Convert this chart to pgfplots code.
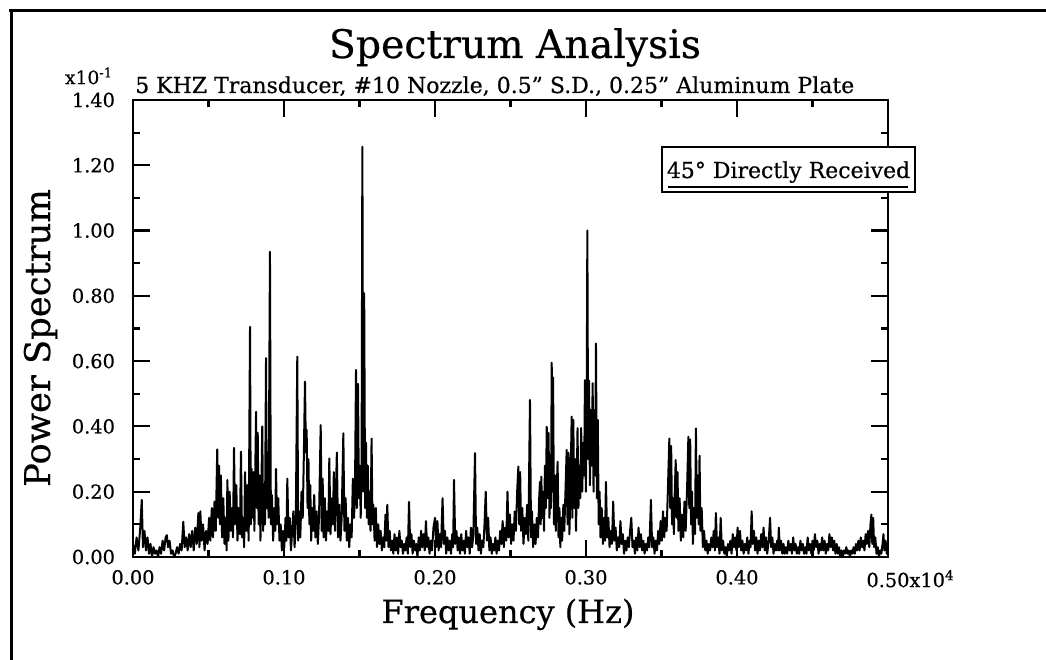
\documentclass[border=0pt]{standalone}
\usepackage{fontspec}
\setmainfont{DejaVu Serif}[FakeBold=0.5]
\usepackage{pgfplots}
\pgfplotsset{compat=1.18}
\begin{document}
\begin{tikzpicture}
\path[use as bounding box] (0,0) rectangle (784.5pt,495pt);
\begin{axis}[
  at={(99.75pt,77.25pt)}, anchor=south west, scale only axis,
  width=566.25pt, height=342.75pt,
  xmin=0, xmax=0.5, ymin=0, ymax=1.4,
  xtick={0,0.1,0.2,0.3,0.4,0.5},
  xticklabels={0.00,0.10,0.20,0.30,0.40,{0.50\rlap{x10\textsuperscript{4}}}},
  minor xtick={0.05,0.15,0.25,0.35,0.45},
  ytick={0,0.2,0.4,0.6,0.8,1.0,1.2,1.4},
  yticklabels={0.00,0.20,0.40,0.60,0.80,1.00,1.20,1.40},
  minor ytick={0.1,0.3,0.5,0.7,0.9,1.1,1.3},
  tick align=inside, major tick length=12.75pt, minor tick length=5.25pt,
  axis line style={line width=1.6pt},
  every tick/.style={black, line width=1.6pt},
  ticklabel style={font=\fontsize{14.5}{16}\selectfont},
  yticklabel style={xshift=-10pt},
  xticklabel style={yshift=-6.25pt},
]
\addplot[black, line width=1.5pt, line join=round, no markers] table {
x y
0.000 0.04
0.0012 0.01
0.0024 0.06
0.0036 0.02
0.0048 0.09
0.0058 0.175
0.0066 0.03
0.0076 0.08
0.0086 0.02
0.0096 0.06
0.0106 0.01
0.0116 0.04
0.0126 0.00
0.0136 0.03
0.0146 0.01
0.0156 0.02
0.0166 0.00
0.0176 0.03
0.0186 0.01
0.0196 0.05
0.0206 0.02
0.0216 0.06
0.0224 0.067
0.0232 0.03
0.0242 0.05
0.0252 0.01
0.0262 0.02
0.0272 0.00
0.0282 0.01
0.0292 0.03
0.0302 0.01
0.0312 0.04
0.0322 0.02
0.0333 0.108
0.0342 0.03
0.0352 0.06
0.0362 0.02
0.0372 0.07
0.0382 0.03
0.0392 0.08
0.0402 0.02
0.0412 0.09
0.0422 0.04
0.0433 0.135
0.0440 0.03
0.0446 0.14
0.0454 0.05
0.0464 0.10
0.0474 0.02
0.0484 0.08
0.0494 0.04
0.0504 0.12
0.0512 0.05
0.0522 0.15
0.0530 0.06
0.0540 0.17
0.0548 0.08
0.0558 0.33
0.0564 0.12
0.0570 0.28
0.0576 0.10
0.0582 0.25
0.0590 0.06
0.0598 0.18
0.0606 0.04
0.0614 0.12
0.0620 0.02
0.0625 0.236
0.0632 0.05
0.0640 0.20
0.0648 0.08
0.0656 0.15
0.0662 0.06
0.0669 0.334
0.0676 0.10
0.0684 0.22
0.0692 0.05
0.0700 0.15
0.0708 0.07
0.0715 0.323
0.0722 0.06
0.0730 0.12
0.0736 0.03
0.0742 0.26
0.0750 0.08
0.0758 0.22
0.0766 0.05
0.0775 0.705
0.0780 0.10
0.0786 0.27
0.0792 0.12
0.0798 0.26
0.0804 0.08
0.0810 0.27
0.0815 0.445
0.0820 0.15
0.0826 0.38
0.0832 0.10
0.0838 0.25
0.0844 0.05
0.0850 0.20
0.0856 0.40
0.0862 0.08
0.0868 0.22
0.0874 0.10
0.0881 0.609
0.0886 0.15
0.0892 0.30
0.0898 0.12
0.0907 0.935
0.0913 0.10
0.0920 0.19
0.0928 0.05
0.0936 0.15
0.0942 0.08
0.0947 0.27
0.0954 0.10
0.0962 0.18
0.0970 0.05
0.0978 0.10
0.0986 0.02
0.0994 0.08
0.1002 0.03
0.1010 0.12
0.1016 0.05
0.1022 0.24
0.1030 0.06
0.1038 0.12
0.1046 0.02
0.1054 0.08
0.1062 0.14
0.1070 0.03
0.1078 0.10
0.1088 0.614
0.1094 0.05
0.1100 0.14
0.1108 0.06
0.1116 0.20
0.1124 0.12
0.1131 0.30
0.1139 0.537
0.1145 0.32
0.1150 0.39
0.1156 0.15
0.1162 0.30
0.1168 0.10
0.1174 0.22
0.1180 0.05
0.1186 0.15
0.1192 0.08
0.1200 0.19
0.1208 0.06
0.1216 0.14
0.1224 0.04
0.1232 0.12
0.1243 0.404
0.1250 0.08
0.1256 0.24
0.1262 0.06
0.1270 0.18
0.1278 0.05
0.1286 0.14
0.1294 0.08
0.1300 0.302
0.1308 0.07
0.1316 0.18
0.1324 0.10
0.1330 0.26
0.1338 0.08
0.1350 0.32
0.1358 0.06
0.1366 0.16
0.1374 0.05
0.1382 0.12
0.1393 0.379
0.1400 0.08
0.1408 0.18
0.1416 0.05
0.1424 0.12
0.1432 0.03
0.1440 0.10
0.1448 0.06
0.1456 0.24
0.1464 0.12
0.1470 0.20
0.1477 0.573
0.1482 0.15
0.1490 0.53
0.1496 0.18
0.1502 0.28
0.1508 0.12
0.1514 0.30
0.1519 1.257
0.1525 0.20
0.1531 0.808
0.1537 0.15
0.1543 0.35
0.1549 0.12
0.1555 0.28
0.1561 0.10
0.1567 0.20
0.1573 0.08
0.1580 0.363
0.1586 0.10
0.1592 0.16
0.1600 0.05
0.1608 0.15
0.1616 0.03
0.1624 0.10
0.1632 0.04
0.1640 0.08
0.1648 0.02
0.1656 0.06
0.1664 0.03
0.1672 0.13
0.1678 0.05
0.1684 0.16
0.1692 0.03
0.1700 0.08
0.1708 0.02
0.1716 0.05
0.1724 0.01
0.1732 0.07
0.1740 0.02
0.1748 0.06
0.1756 0.01
0.1764 0.08
0.1772 0.03
0.1780 0.05
0.1788 0.01
0.1796 0.04
0.1804 0.02
0.1812 0.06
0.1820 0.01
0.1828 0.169
0.1836 0.03
0.1844 0.07
0.1852 0.01
0.1860 0.05
0.1868 0.02
0.1876 0.04
0.1884 0.00
0.1892 0.06
0.1900 0.02
0.1908 0.08
0.1916 0.03
0.1924 0.07
0.1932 0.02
0.1940 0.11
0.1948 0.03
0.1956 0.06
0.1964 0.01
0.1972 0.05
0.1980 0.02
0.1990 0.09
0.2000 0.12
0.2008 0.03
0.2016 0.11
0.2024 0.02
0.2032 0.07
0.2040 0.03
0.2050 0.18
0.2058 0.04
0.2066 0.08
0.2074 0.01
0.2082 0.06
0.2090 0.02
0.2098 0.05
0.2106 0.01
0.2114 0.07
0.2120 0.03
0.2126 0.236
0.2134 0.04
0.2142 0.08
0.2150 0.02
0.2158 0.06
0.2166 0.01
0.2174 0.07
0.2182 0.02
0.2190 0.05
0.2198 0.01
0.2206 0.08
0.2214 0.03
0.2222 0.06
0.2230 0.01
0.2238 0.09
0.2246 0.03
0.2254 0.07
0.2265 0.318
0.2272 0.04
0.2280 0.09
0.2288 0.02
0.2296 0.07
0.2304 0.01
0.2312 0.05
0.2320 0.03
0.2328 0.10
0.2336 0.20
0.2344 0.05
0.2352 0.12
0.2360 0.02
0.2368 0.06
0.2376 0.01
0.2384 0.04
0.2392 0.02
0.2400 0.06
0.2408 0.01
0.2416 0.05
0.2424 0.02
0.2432 0.08
0.2440 0.04
0.2448 0.11
0.2456 0.03
0.2464 0.09
0.2472 0.05
0.2480 0.20
0.2488 0.06
0.2496 0.13
0.2504 0.04
0.2512 0.10
0.2520 0.05
0.2528 0.14
0.2536 0.08
0.2544 0.20
0.2552 0.277
0.2558 0.10
0.2564 0.26
0.2570 0.08
0.2578 0.15
0.2586 0.04
0.2594 0.12
0.2602 0.07
0.2610 0.16
0.2618 0.05
0.2629 0.481
0.2636 0.06
0.2642 0.14
0.2650 0.03
0.2658 0.10
0.2666 0.04
0.2674 0.12
0.2682 0.06
0.2690 0.18
0.2695 0.23
0.2700 0.10
0.2704 0.246
0.2710 0.12
0.2716 0.20
0.2722 0.08
0.2728 0.28
0.2734 0.15
0.2740 0.399
0.2746 0.18
0.2752 0.38
0.2758 0.12
0.2764 0.30
0.2768 0.15
0.2773 0.595
0.2778 0.20
0.2782 0.55
0.2788 0.10
0.2794 0.25
0.2800 0.08
0.2806 0.20
0.2812 0.292
0.2818 0.06
0.2824 0.15
0.2830 0.03
0.2836 0.12
0.2842 0.05
0.2850 0.16
0.2856 0.08
0.2864 0.20
0.2872 0.328
0.2878 0.10
0.2884 0.32
0.2890 0.07
0.2897 0.20
0.2905 0.43
0.2910 0.12
0.2916 0.42
0.2922 0.15
0.2928 0.30
0.2934 0.08
0.2944 0.395
0.2950 0.15
0.2956 0.28
0.2962 0.18
0.2968 0.395
0.2975 0.20
0.2982 0.35
0.2988 0.25
0.2993 0.542
0.2999 0.20
0.3004 0.40
0.3009 1.0
0.3014 0.30
0.3020 0.54
0.3026 0.22
0.3032 0.45
0.3038 0.28
0.3044 0.532
0.3050 0.20
0.3056 0.45
0.3061 0.25
0.3066 0.654
0.3072 0.18
0.3078 0.42
0.3084 0.10
0.3090 0.20
0.3096 0.06
0.3104 0.15
0.3112 0.04
0.3120 0.12
0.3126 0.05
0.3132 0.23
0.3140 0.06
0.3148 0.12
0.3156 0.03
0.3164 0.08
0.3172 0.04
0.3180 0.17
0.3188 0.05
0.3196 0.09
0.3204 0.02
0.3212 0.06
0.3220 0.03
0.3228 0.11
0.3236 0.04
0.3244 0.07
0.3252 0.01
0.3260 0.05
0.3268 0.02
0.3276 0.06
0.3284 0.03
0.3292 0.08
0.3300 0.12
0.3308 0.03
0.3316 0.05
0.3324 0.01
0.3332 0.06
0.3340 0.02
0.3348 0.09
0.3356 0.03
0.3364 0.07
0.3372 0.02
0.3380 0.05
0.3388 0.01
0.3396 0.04
0.3404 0.02
0.3412 0.06
0.3420 0.03
0.3430 0.175
0.3438 0.03
0.3446 0.06
0.3454 0.01
0.3462 0.05
0.3470 0.02
0.3478 0.08
0.3486 0.04
0.3494 0.11
0.3502 0.05
0.3510 0.14
0.3518 0.06
0.3526 0.12
0.3534 0.08
0.3542 0.20
0.3552 0.363
0.3558 0.15
0.3564 0.34
0.3570 0.10
0.3576 0.18
0.3582 0.07
0.3588 0.20
0.3594 0.297
0.3600 0.12
0.3606 0.26
0.3612 0.08
0.3620 0.18
0.3628 0.05
0.3636 0.13
0.3644 0.06
0.3652 0.17
0.3660 0.08
0.3670 0.22
0.3678 0.368
0.3684 0.15
0.3690 0.36
0.3696 0.10
0.3702 0.20
0.3708 0.04
0.3716 0.15
0.3722 0.07
0.3728 0.394
0.3734 0.12
0.3740 0.25
0.3746 0.10
0.3752 0.31
0.3758 0.08
0.3766 0.15
0.3774 0.03
0.3782 0.08
0.3790 0.02
0.3798 0.05
0.3806 0.01
0.3814 0.04
0.3822 0.02
0.3830 0.06
0.3838 0.03
0.3846 0.08
0.3854 0.02
0.3860 0.135
0.3868 0.03
0.3876 0.06
0.3884 0.01
0.3892 0.12
0.3900 0.02
0.3908 0.05
0.3916 0.01
0.3924 0.03
0.3932 0.00
0.3940 0.04
0.3948 0.02
0.3956 0.05
0.3964 0.01
0.3972 0.07
0.3980 0.03
0.3988 0.06
0.3996 0.02
0.4004 0.09
0.4012 0.03
0.4020 0.08
0.4028 0.02
0.4036 0.05
0.4044 0.01
0.4052 0.04
0.4060 0.02
0.4068 0.06
0.4076 0.01
0.4084 0.05
0.4090 0.03
0.4097 0.14
0.4104 0.04
0.4112 0.08
0.4120 0.02
0.4128 0.06
0.4136 0.01
0.4144 0.05
0.4152 0.02
0.4160 0.07
0.4168 0.03
0.4176 0.09
0.4184 0.02
0.4192 0.06
0.4200 0.01
0.4210 0.05
0.4219 0.12
0.4226 0.03
0.4234 0.06
0.4242 0.01
0.4250 0.04
0.4258 0.02
0.4266 0.05
0.4272 0.02
0.4277 0.09
0.4284 0.02
0.4292 0.05
0.4300 0.01
0.4308 0.04
0.4316 0.01
0.4324 0.03
0.4332 0.01
0.4340 0.05
0.4348 0.02
0.4356 0.04
0.4364 0.01
0.4372 0.06
0.4380 0.02
0.4388 0.04
0.4396 0.01
0.4404 0.03
0.4412 0.01
0.4420 0.05
0.4428 0.02
0.4436 0.04
0.4444 0.01
0.4452 0.03
0.4460 0.01
0.4468 0.06
0.4476 0.02
0.4484 0.04
0.4492 0.01
0.4500 0.05
0.4508 0.02
0.4516 0.07
0.4524 0.03
0.4532 0.05
0.4540 0.01
0.4548 0.04
0.4556 0.02
0.4564 0.06
0.4572 0.02
0.4580 0.05
0.4588 0.01
0.4596 0.04
0.4604 0.02
0.4612 0.07
0.4620 0.03
0.4628 0.06
0.4636 0.02
0.4644 0.05
0.4652 0.01
0.4660 0.04
0.4668 0.01
0.4676 0.03
0.4684 0.00
0.4692 0.02
0.4700 0.00
0.4708 0.02
0.4716 0.01
0.4724 0.03
0.4732 0.01
0.4740 0.02
0.4748 0.00
0.4756 0.02
0.4764 0.01
0.4772 0.03
0.4780 0.01
0.4788 0.04
0.4796 0.02
0.4804 0.05
0.4812 0.02
0.4820 0.06
0.4828 0.03
0.4836 0.05
0.4844 0.02
0.4852 0.07
0.4860 0.04
0.4868 0.08
0.4876 0.03
0.4884 0.10
0.4890 0.13
0.4896 0.04
0.4902 0.12
0.4908 0.03
0.4916 0.06
0.4924 0.01
0.4932 0.03
0.4940 0.00
0.4948 0.02
0.4956 0.01
0.4964 0.04
0.4970 0.07
0.4976 0.02
0.4984 0.05
0.4992 0.01
0.5000 0.03
};
\end{axis}
% frame
\draw[line width=2.5pt] (7pt,487.1pt) -- (784.5pt,487.1pt);
\draw[line width=2.5pt] (8.6pt,487.1pt) -- (8.6pt,0pt);
% titles
\node[anchor=base, inner sep=0pt, font=\fontsize{29.5}{32}\selectfont] at (386.25pt,451.5pt) {Spectrum Analysis};
\node[anchor=base west, inner sep=0pt, font=\fontsize{16.5}{18}\selectfont] at (101.25pt,425.25pt) {5 KHZ Transducer, \#10 Nozzle, 0.5" S.D., 0.25" Aluminum Plate};
\node[anchor=east, inner sep=0pt, font=\fontsize{14}{15}\selectfont] at (84.75pt,438pt) {x10\textsuperscript{-1}};
\node[anchor=base, inner sep=0pt, rotate=90, font=\fontsize{26.5}{28}\selectfont] at (37.5pt,241.5pt) {Power Spectrum};
\node[anchor=base, inner sep=0pt, font=\fontsize{24}{27}\selectfont] at (381pt,27.75pt) {Frequency (Hz)};
% annotation box
\draw[line width=1.2pt, fill=white] (496.5pt,351pt) rectangle (686.25pt,384.75pt);
\draw[line width=1.2pt] (501pt,354.75pt) -- (681pt,354.75pt);
\node[anchor=base, inner sep=0pt, font=\fontsize{16.5}{18}\selectfont] at (591.4pt,361.5pt) {45° Directly Received};
\end{tikzpicture}
\end{document}
